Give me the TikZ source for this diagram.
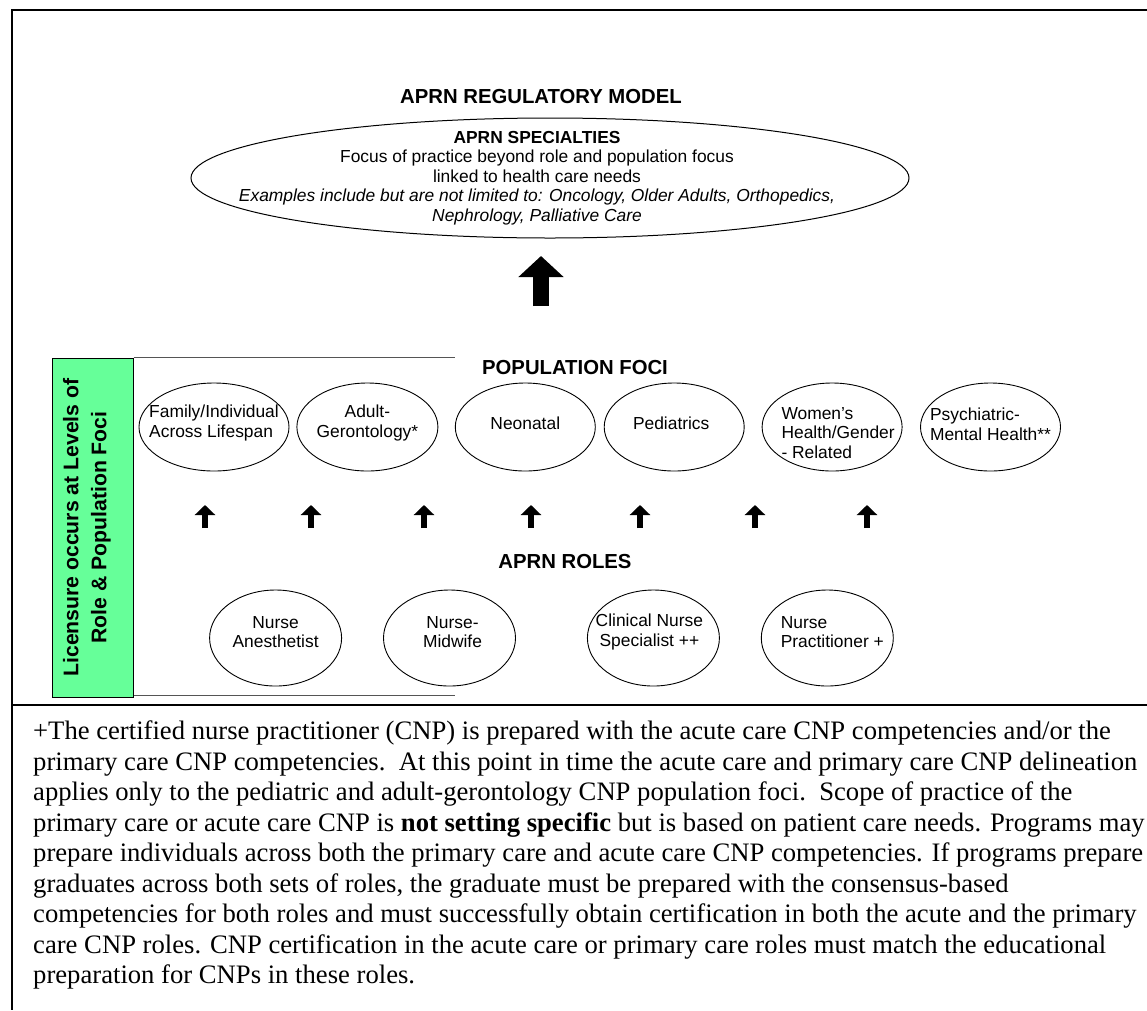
\documentclass[tikz,border=0pt]{standalone}
\usepackage{fontspec}
\setmainfont{Liberation Serif}
\setsansfont{Liberation Sans}
\usetikzlibrary{positioning, arrows.meta, shapes.geometric}
\definecolor{licgreen}{RGB}{102,255,153}
\definecolor{rulegray}{RGB}{85,85,85}

\begin{document}
\begin{tikzpicture}[x=1pt, y=-1pt,
		frame/.style={line width=2.3pt},
		spec/.style={ellipse, draw, line width=1pt, inner sep=0pt, minimum width=718pt, minimum height=120pt},
		focus/.style={ellipse, draw, line width=0.9pt, inner sep=0pt, minimum width=140pt, minimum height=88pt},
		role/.style={ellipse, draw, line width=0.9pt, inner sep=0pt, minimum width=132pt, minimum height=96pt},
		licbar/.style={rectangle, draw, line width=1pt, fill=licgreen, inner sep=0pt, minimum width=81pt, minimum height=339pt},
		textb/.style={inner sep=0pt, align=center, font=\fontsize{17.4}{19.5}\selectfont\sffamily},
		heading/.style={inner sep=0pt, font=\fontsize{20.3}{24}\selectfont\sffamily\bfseries},
		rule/.style={draw=rulegray, line width=1.6pt},
		bigarrow/.style={line width=16pt, -{Triangle[length=21pt, width=44pt]}},
		uparrow/.style={line width=5.3pt, -{Triangle[length=10pt, width=20pt]}}
	]
	\useasboundingbox (0,0) rectangle (1147,1010);

	% outer frame and split line
	\draw[frame] (1147,10) -| (12,1010);
	\draw[frame] (12,705) -- (1147,705);

	\node[heading] (title) at (541,97) {APRN REGULATORY MODEL};
	\node[spec] (spec) at (550,178) {};
	\node[textb] (spectext) at (537,178) {\textbf{APRN SPECIALTIES}\\Focus of practice beyond role and population focus\\linked to health care needs\\\textit{Examples include but are not limited to: Oncology, Older Adults, Orthopedics,}\\\textit{Nephrology, Palliative Care}};
	\draw[bigarrow] (541,306) -- (541,256);

	% licensure bar
	\node[licbar] (lic) at (92.5,527.5) {};
	\node[textb, rotate=90, font=\fontsize{21.2}{28}\selectfont\sffamily\bfseries] (lictext) at ([xshift=-5.5pt]lic.center) {Licensure occurs at Levels of\\Role \& Population Foci};
	\draw[rule] (lic.north east) -- ++(321,0);
	\draw[rule] ([yshift=2pt]lic.south east) -- ++(321,0);

	% population foci
	\node[heading] (foci) at (575,368) {POPULATION FOCI};
	\node[focus, minimum width=150pt] (fam) at (214,427) {};
	\node[focus, minimum width=141pt, right=7pt of fam] (adult) {};
	\node[focus, right=16.5pt of adult] (neo) {};
	\node[focus, right=8pt of neo] (ped) {};
	\node[focus, right=17pt of ped] (wom) {};
	\node[focus, right=17.5pt of wom] (psy) {};

	\node[textb, align=left] (famtext) at ([yshift=4pt]fam.center) {Family/Individual\\Across Lifespan};
	\node[textb] (adulttext) at ([yshift=4pt]adult.center) {Adult-\\Gerontology*};
	\node[textb] (neotext) at ([yshift=4pt]neo.center) {Neonatal};
	\node[textb] (pedtext) at ([xshift=-3pt, yshift=4pt]ped.center) {Pediatrics};
	\node[textb, align=left] (womtext) at ([xshift=6pt, yshift=-6pt]wom.center) {Women’s\\Health/Gender\\- Related};
	\node[textb, align=left] (psytext) at ([yshift=2.5pt]psy.center) {Psychiatric-\\Mental Health**};

	\foreach \x in {205, 311, 424, 531, 640, 755, 867}
		\draw[uparrow] (\x,528) -- (\x,505);

	% roles
	\node[heading] (roles) at (565,561) {APRN ROLES};
	\node[role] (ane) at (275.6,638) {};
	\node[role, right=41pt of ane] (mid) {};
	\node[role, right=71pt of mid] (cns) {};
	\node[role, right=41pt of cns] (np) {};

	\node[textb] (anetext) at ([yshift=6pt]ane.center) {Nurse\\Anesthetist};
	\node[textb] (midtext) at ([xshift=3pt, yshift=6pt]mid.center) {Nurse-\\Midwife};
	\node[textb] (cnstext) at ([xshift=-4pt, yshift=6pt]cns.center) {Clinical Nurse\\Specialist ++};
	\node[textb, align=left] (nptext) at ([xshift=5pt, yshift=6pt]np.center) {Nurse\\Practitioner +};

	% footnote
	\node[anchor=north west, inner sep=0pt, align=left, font=\fontsize{26.65}{30.5}\selectfont] (note) at (33,721) {+The certified nurse practitioner (CNP) is prepared with the acute care CNP competencies and/or the\\
		primary care CNP competencies.\ \ At this point in time the acute care and primary care CNP delineation\\
		applies only to the pediatric and adult-gerontology CNP population foci.\ \ Scope of practice of the\\
		primary care or acute care CNP is \textbf{not setting specific} but is based on patient care needs. Programs may\\
		prepare individuals across both the primary care and acute care CNP competencies. If programs prepare\\
		graduates across both sets of roles, the graduate must be prepared with the consensus-based\\
		competencies for both roles and must successfully obtain certification in both the acute and the primary\\
		care CNP roles. CNP certification in the acute care or primary care roles must match the educational\\
		preparation for CNPs in these roles.};

\end{tikzpicture}
\end{document}
